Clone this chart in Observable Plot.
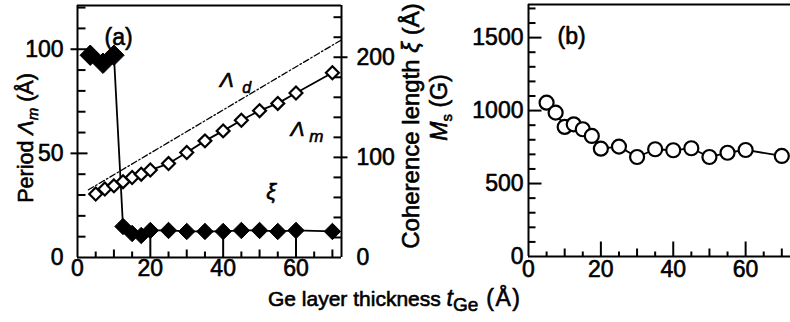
<!DOCTYPE html>
<html>
<head>
<meta charset="utf-8">
<script src="https://cdn.jsdelivr.net/npm/d3@7"></script>
<script src="https://cdn.jsdelivr.net/npm/@observablehq/plot@0.6"></script>
<style>
  html, body { margin: 0; padding: 0; background: #fff; }
  #chart { position: relative; width: 790px; height: 322px; overflow: hidden; background: #fff; }
  #chart svg { position: absolute; left: 0; top: 0; }
</style>
</head>
<body>
<div id="chart"></div>
<script>
// ---------------- data ----------------
// panel (a): period Λm (Å, left axis) vs Ge thickness
const tGe = [5, 7.5, 10, 12.5, 15, 17.5, 20, 25, 30, 35, 40, 45, 50, 55, 60, 70];
const periodLm = [30.5, 32.9, 34.4, 36.4, 38.4, 40, 42, 45.1, 50.4, 56, 60.8, 65.9, 70.5, 74, 79, 88.7];
// designed period Λd (dash-dot line), endpoints
const ldT = [3, 72.5];
const ldVal = [32.5, 104.5];
// coherence length ξ (Å, right axis)
const xiT = [3.5, 7, 10, 12.5, 15, 17.5, 20, 25, 30, 35, 40, 45, 50, 55, 60, 70];
const xiVal = [202, 194, 202, 31, 24, 22, 27, 27, 26, 26, 26, 27, 27, 26, 27, 26];
// panel (b): Ms (G)
const msT = [5, 7.5, 10, 12.5, 15, 17.5, 20, 25, 30, 35, 40, 45, 50, 55, 60, 70];
const msVal = [1054, 986, 888, 906, 872, 826, 739, 753, 682, 735, 728, 742, 682, 711, 730, 689];

// tick values / labels
const xTickLabels = [0, 20, 40, 60];
const xTicks5 = [5, 15, 25, 35, 45, 55, 65];
const xTicks10 = [10, 30, 50, 70];
const xTicks20 = [20, 40, 60];
const yaMinor = [10, 20, 30, 40, 60, 70, 80, 90, 110, 120];
const yaMajor = [50, 100];
const yaLabels = [0, 50, 100];
const yaRightMinor = [20, 40, 60, 80, 120, 140, 160, 180, 220, 240];
const yaRightMajor = [100, 200];
const yaRightLabels = [0, 100, 200];
const ybMinor = [100, 200, 300, 400, 600, 700, 800, 900, 1100, 1200, 1300, 1400, 1600, 1700];
const ybMajor = [500, 1000, 1500];
const ybLabels = [0, 500, 1000, 1500];

// annotations (data coordinates)
const annLd = {x: 41, y: 85};
const annLm = {x: 60.4, y: 61.5};
const annXi = {x: 53.2, y: 31.5};

// ---------------- layout ----------------
const W = 790, H = 322;
const FONT = "'Liberation Sans', Arial, Helvetica, sans-serif";
const K = 1 / 2.08; // right-axis Å -> left-axis units in panel (a)
const TXT = {fill: "#000", stroke: "#000", strokeWidth: 0.6};
const tickStyle = {stroke: "#000", strokeWidth: 2};

// tick segment helpers (all in data units -> through the scales)
const vTicks = (vals, y0, len) => Plot.link(vals, {x1: d => d, x2: d => d, y1: () => y0, y2: () => y0 + len, ...tickStyle});
const hTicks = (vals, f, x1, x2) => Plot.link(vals, {y1: d => f(d), y2: d => f(d), x1: () => x1, x2: () => x2, ...tickStyle});

// panel (a)
const aML = 77, aMR = 449, aMT = 5, aMB = 65;
const aFW = W - aML - aMR, aFH = H - aMT - aMB;
const aX = [0, 72.5], aY = [0, 121];
const pxA = aFW / (aX[1] - aX[0]), pyA = aFH / (aY[1] - aY[0]);
const id = d => d;

const svgA = Plot.plot({
  width: W, height: H,
  marginLeft: aML, marginRight: aMR, marginTop: aMT, marginBottom: aMB,
  x: {domain: aX, axis: null},
  y: {domain: aY, axis: null},
  style: {background: "transparent", fontFamily: FONT, color: "#000", overflow: "visible"},
  marks: [
    // frame
    Plot.ruleX([aX[0], aX[1]], tickStyle),
    Plot.ruleY([aY[0], aY[1]], tickStyle),
    // bottom ticks (inward)
    vTicks(xTicks5, aY[0], 6 / pyA),
    vTicks(xTicks10, aY[0], 8 / pyA),
    vTicks(xTicks20, aY[0], 22 / pyA),
    // left ticks
    hTicks(yaMinor, id, aX[0], aX[0] + 8 / pxA),
    hTicks(yaMajor, id, aX[0] - 7 / pxA, aX[0] + 10 / pxA),
    // right ticks (ξ axis)
    hTicks(yaRightMinor, d => d * K, aX[1] - 8 / pxA, aX[1]),
    hTicks(yaRightMajor, d => d * K, aX[1] - 8 / pxA, aX[1] + 6 / pxA),
    // tick labels
    Plot.text(xTickLabels, {x: d => d, text: d => String(d), frameAnchor: "bottom", dy: 18, fontSize: 23, ...TXT}),
    Plot.text(yaLabels, {y: d => d, text: d => String(d), frameAnchor: "left", dx: -14, textAnchor: "end", fontSize: 23, ...TXT}),
    Plot.text(yaRightLabels, {y: d => d * K, text: d => String(d), frameAnchor: "right", dx: 15, textAnchor: "start", fontSize: 23, ...TXT}),
    // Λd dash-dot line
    Plot.line(ldT.map((t, i) => ({t, v: ldVal[i]})), {x: "t", y: "v", stroke: "#000", strokeWidth: 1.3, strokeDasharray: "6 2.5 1.5 2.5"}),
    // ξ filled diamonds
    Plot.line(xiT.map((t, i) => ({t, v: xiVal[i]})), {x: "t", y: d => d.v * K, stroke: "#000", strokeWidth: 1.8}),
    Plot.dot(xiT.map((t, i) => ({t, v: xiVal[i]})).slice(0, 3), {x: "t", y: d => d.v * K, r: 9.2, symbol: "diamond2", fill: "#000", stroke: "#000", strokeWidth: 1}),
    Plot.dot(xiT.map((t, i) => ({t, v: xiVal[i]})).slice(3), {x: "t", y: d => d.v * K, r: 7.4, symbol: "diamond2", fill: "#000", stroke: "#000", strokeWidth: 1}),
    // Λm open diamonds
    Plot.line(tGe.map((t, i) => ({t, v: periodLm[i]})), {x: "t", y: "v", stroke: "#000", strokeWidth: 1.8}),
    Plot.dot(tGe.map((t, i) => ({t, v: periodLm[i]})), {x: "t", y: "v", r: 5.8, symbol: "diamond2", fill: "#fff", stroke: "#000", strokeWidth: 2.2}),
    // annotations
    Plot.text([annLd], {x: "x", y: "y", text: () => "Λ", fontSize: 21, fontStyle: "italic", ...TXT}),
    Plot.text([annLd], {x: "x", y: "y", text: () => "d", dx: 20, dy: 7, fontSize: 16, fontStyle: "italic", ...TXT}),
    Plot.text([annLm], {x: "x", y: "y", text: () => "Λ", fontSize: 21, fontStyle: "italic", ...TXT}),
    Plot.text([annLm], {x: "x", y: "y", text: () => "m", dx: 19, dy: 7, fontSize: 17, fontStyle: "italic", ...TXT}),
    Plot.text([annXi], {x: "x", y: "y", text: () => "ξ", fontSize: 22, fontStyle: "italic", ...TXT}),
    // panel label
    Plot.text(["(a)"], {frameAnchor: "top-left", dx: 27, dy: 23, textAnchor: "start", text: d => d, fontSize: 23, letterSpacing: 4, ...TXT})
  ]
});

// panel (b)
const bML = 528, bMR = 0, bMT = 4, bMB = 66;
const bFW = W - bML - bMR, bFH = H - bMT - bMB;
const bX = [0, 72.4], bY = [0, 1727];
const pxB = bFW / (bX[1] - bX[0]), pyB = bFH / (bY[1] - bY[0]);

const svgB = Plot.plot({
  width: W, height: H,
  marginLeft: bML, marginRight: bMR, marginTop: bMT, marginBottom: bMB,
  x: {domain: bX, axis: null},
  y: {domain: bY, axis: null},
  style: {background: "transparent", fontFamily: FONT, color: "#000", overflow: "visible"},
  marks: [
    Plot.ruleX([bX[0]], tickStyle),
    Plot.ruleY([bY[0], bY[1]], tickStyle),
    vTicks(xTicks5, bY[0], 5 / pyB),
    vTicks(xTicks10, bY[0], 8 / pyB),
    vTicks(xTicks20, bY[0], 15 / pyB),
    hTicks(ybMinor, id, bX[0], bX[0] + 7 / pxB),
    hTicks(ybMajor, id, bX[0], bX[0] + 13 / pxB),
    Plot.text(xTickLabels, {x: d => d, text: d => String(d), frameAnchor: "bottom", dy: 20, fontSize: 23, letterSpacing: 1.5, ...TXT}),
    Plot.text(ybLabels, {y: d => d, text: d => String(d), frameAnchor: "left", dx: -5, textAnchor: "end", fontSize: 23, letterSpacing: 1.5, ...TXT}),
    Plot.line(msT.map((t, i) => ({t, v: msVal[i]})), {x: "t", y: "v", stroke: "#000", strokeWidth: 1.8}),
    Plot.dot(msT.map((t, i) => ({t, v: msVal[i]})), {x: "t", y: "v", r: 7, fill: "#fff", stroke: "#000", strokeWidth: 2.2}),
    Plot.text(["(b)"], {frameAnchor: "top-left", dx: 29, dy: 23, textAnchor: "start", text: d => d, fontSize: 23, letterSpacing: 4, ...TXT})
  ]
});

const chart = document.getElementById("chart");
chart.appendChild(svgA);
chart.appendChild(svgB);

// ---------------- axis titles (rich text) ----------------
const sel = d3.select(svgB);
function rich(x, y, rot, size, parts, anchor = "middle") {
  const t = sel.append("text")
    .attr("transform", `translate(${x},${y}) rotate(${rot})`)
    .attr("text-anchor", anchor)
    .attr("font-family", FONT)
    .attr("font-size", size)
    .attr("fill", "#000")
    .attr("stroke", "#000")
    .attr("stroke-width", 0.6);
  for (const p of parts) {
    const s = t.append("tspan").text(p.t);
    if (p.i) s.attr("font-style", "italic");
    if (p.s) s.attr("font-size", p.s);
    if (p.dy) s.attr("dy", p.dy);
    if (p.ls) s.attr("letter-spacing", p.ls);
  }
}
// x title
rich(268, 306, 0, 21, [
  {t: "Ge layer thickness "},
  {t: "t", i: true, s: 23},
  {t: "Ge", s: 19, dy: 5},
  {t: " (Å)", dy: -5, s: 23, ls: 1.5}
], "start");
// left y title
rich(33, 138, -90, 21.5, [
  {t: "Period "},
  {t: "Λ", i: true},
  {t: "m", i: true, s: 15, dy: 5},
  {t: " (Å)", dy: -5}
]);
// right y title of (a)
rich(419, 126, -90, 24, [
  {t: "Coherence length "},
  {t: "ξ", i: true},
  {t: " (Å)"}
]);
// y title of (b)
rich(447, 107.5, -90, 23, [
  {t: "M", i: true},
  {t: "s", s: 15, dy: 5},
  {t: " (G)", dy: -5}
]);
</script>
</body>
</html>
